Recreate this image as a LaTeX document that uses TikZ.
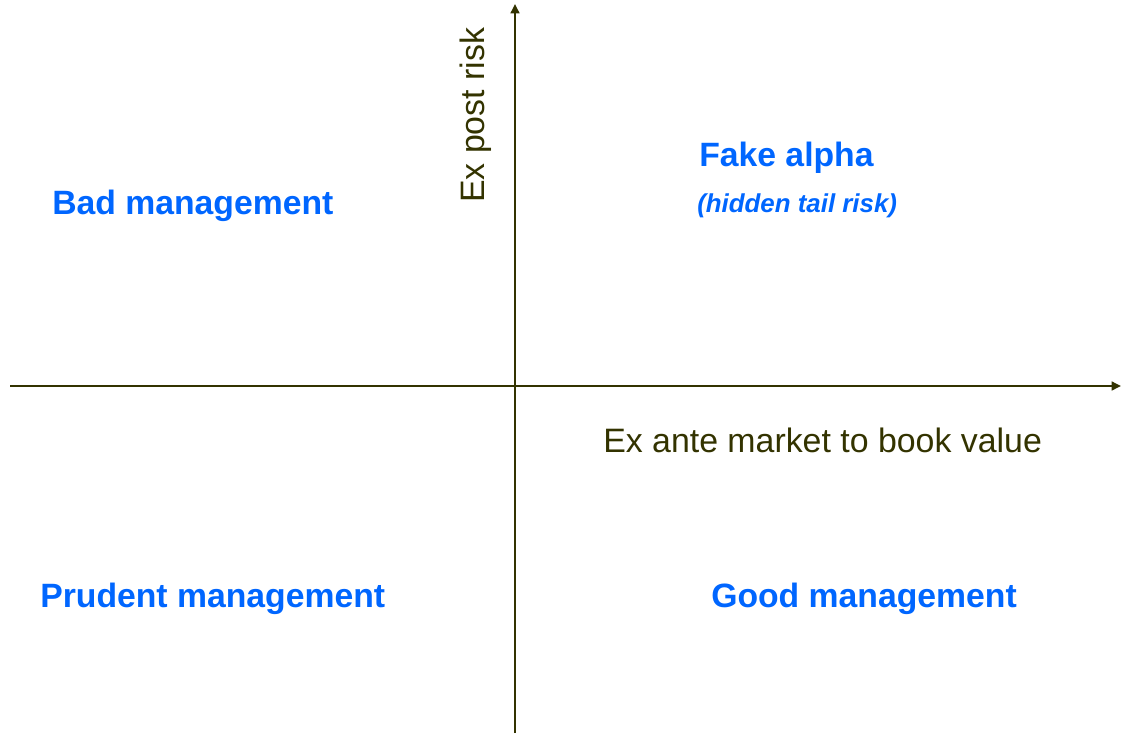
\documentclass[tikz,border=0pt]{standalone}
\usepackage{fontspec}
\setmainfont{Liberation Sans}
\usetikzlibrary{arrows.meta}
\definecolor{axiscol}{HTML}{333300}
\definecolor{quadblue}{HTML}{0066FF}
\begin{document}
\begin{tikzpicture}[x=0.75pt,y=-0.75pt,
  axis/.style={draw=axiscol,line width=1.9pt,-{Triangle[length=7pt,width=6.5pt]}},
  quad/.style={text=quadblue,font=\fontsize{25.3}{30}\selectfont\bfseries,inner sep=0pt},
  sub/.style={text=quadblue,font=\fontsize{19.4}{23}\selectfont\bfseries\itshape,inner sep=0pt},
  axlabel/.style={text=axiscol,font=\fontsize{25.4}{30}\selectfont,inner sep=0pt}]
\useasboundingbox (0,0) rectangle (1121,733);
\coordinate (ybot) at (515,733);
\coordinate (ytop) at (515,4);
\coordinate (xl) at (10,386);
\coordinate (xr) at (1121,386);
\draw[axis] (ybot) -- (ytop);
\draw[axis] (xl) -- (xr);
\node[quad,anchor=base west] (bad) at (52,214) {Bad management};
\node[quad,anchor=base west] (fake) at (699,166) {Fake alpha};
\node[sub,anchor=base west] (hidden) at (697,212) {(hidden tail risk)};
\node[axlabel,anchor=base west,rotate=90] (expost) at (484,203) {Ex post risk};
\node[axlabel,anchor=base west] (exante) at (603,452) {Ex ante market to book value};
\node[quad,anchor=base west] (prudent) at (40,607) {Prudent management};
\node[quad,anchor=base west] (good) at (711,607) {Good management};
\end{tikzpicture}
\end{document}
